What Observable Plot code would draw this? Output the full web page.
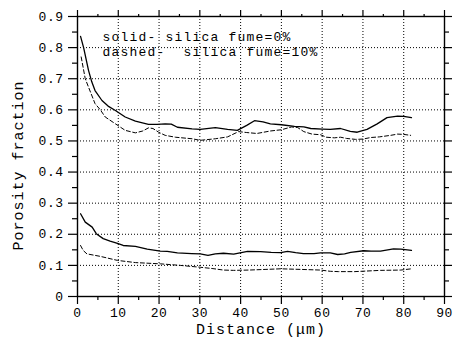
<!DOCTYPE html>
<html>
<head>
<meta charset="utf-8">
<script src="https://cdn.jsdelivr.net/npm/d3@7"></script>
<script src="https://cdn.jsdelivr.net/npm/@observablehq/plot@0.6"></script>
<style>
  html, body { margin: 0; padding: 0; background: white; }
  svg text { white-space: pre; }
</style>
</head>
<body>
<div id="chart"></div>
<script>
// ---- data ----
const xTicks = [0, 10, 20, 30, 40, 50, 60, 70, 80, 90];
const yTicks = [0, 0.1, 0.2, 0.3, 0.4, 0.5, 0.6, 0.7, 0.8, 0.9];
const yTickLabels = ["0", "0.1", "0.2", "0.3", "0.4", "0.5", "0.6", "0.7", "0.8", "0.9"];
const xMinor = [5, 15, 25, 35, 45, 55, 65, 75, 85];
const yMinor = [0.05, 0.15, 0.25, 0.35, 0.45, 0.55, 0.65, 0.75, 0.85];

const legendLines = ["solid- silica fume=0%", "dashed-\u00A0\u00A0silica fume=10%"];
const xLabel = "Distance (\u03BCm)";
const yLabel = "Porosity fraction";

// upper pair
const upperSolidX = [0.75, 1.5, 2.7, 3.5, 4.3, 6.0, 7.5, 9.3, 11.7, 14.2, 17.4, 19.5, 21.5, 23, 24.5, 28.1, 30.1, 33.8, 36.8, 39.2, 41.5, 43.4, 45.5, 47.3, 50, 53.2, 55.5, 57.2, 60, 62, 64.5, 66.9, 68.6, 71.0, 73.5, 75.9, 78.5, 80, 81.9];
const upperSolidY = [0.836, 0.80, 0.727, 0.69, 0.662, 0.630, 0.612, 0.598, 0.577, 0.564, 0.553, 0.553, 0.555, 0.554, 0.544, 0.539, 0.537, 0.543, 0.537, 0.534, 0.55, 0.565, 0.561, 0.555, 0.552, 0.547, 0.545, 0.540, 0.538, 0.537, 0.540, 0.531, 0.528, 0.537, 0.555, 0.575, 0.580, 0.579, 0.575];

const upperDashedX = [0.9, 1.9, 2.7, 4.3, 5.6, 6.8, 9.3, 11.7, 14.2, 16, 17.4, 18.5, 19.9, 21.5, 24, 28.1, 30.1, 33.8, 36.8, 39.5, 41.5, 44, 47.3, 50, 52.5, 54, 55.5, 57.5, 59.6, 61, 63, 64.5, 66, 68.2, 70, 71.9, 74, 76.8, 78.5, 80, 81.7];
const upperDashedY = [0.77, 0.70, 0.673, 0.62, 0.60, 0.577, 0.555, 0.534, 0.526, 0.532, 0.542, 0.54, 0.528, 0.518, 0.512, 0.507, 0.502, 0.507, 0.513, 0.530, 0.527, 0.524, 0.532, 0.536, 0.545, 0.543, 0.530, 0.522, 0.520, 0.512, 0.510, 0.512, 0.508, 0.505, 0.506, 0.511, 0.513, 0.518, 0.522, 0.521, 0.518];

// lower pair
const lowerSolidX = [0.75, 1.9, 3.6, 4.6, 6.3, 8, 9.8, 11.2, 14.2, 17.1, 20.3, 22, 24.5, 28, 30.1, 32, 33.8, 35.8, 38.3, 41.7, 44.9, 47.5, 49.8, 51.5, 53.5, 55.4, 58, 59.6, 62, 63.8, 65.5, 67, 70.2, 72, 74.3, 77.5, 79.3, 81.9];
const lowerSolidY = [0.266, 0.239, 0.223, 0.202, 0.186, 0.178, 0.171, 0.164, 0.161, 0.152, 0.146, 0.145, 0.140, 0.138, 0.137, 0.132, 0.137, 0.139, 0.136, 0.145, 0.144, 0.142, 0.141, 0.145, 0.141, 0.138, 0.138, 0.140, 0.140, 0.135, 0.137, 0.142, 0.147, 0.146, 0.146, 0.153, 0.152, 0.148];

const lowerDashedX = [0.75, 1.4, 2.3, 5.6, 9.8, 14.2, 20.3, 25.2, 30.1, 33, 35.8, 38.3, 42, 46, 49.8, 55, 59.6, 62, 64, 68, 74.3, 79.3, 81.9];
const lowerDashedY = [0.164, 0.148, 0.137, 0.129, 0.116, 0.109, 0.105, 0.100, 0.094, 0.090, 0.085, 0.084, 0.085, 0.087, 0.089, 0.087, 0.085, 0.081, 0.080, 0.080, 0.084, 0.085, 0.089];

const toPts = (xs, ys) => xs.map((x, i) => ({x, y: ys[i]}));
const upperSolid = toPts(upperSolidX, upperSolidY);
const upperDashed = toPts(upperDashedX, upperDashedY);
const lowerSolid = toPts(lowerSolidX, lowerSolidY);
const lowerDashed = toPts(lowerDashedX, lowerDashedY);

const mono = "Liberation Mono, DejaVu Sans Mono, monospace";
const gridStyle = {stroke: "black", strokeOpacity: 1, strokeWidth: 1, strokeDasharray: "1,2"};

const chart = Plot.plot({
  width: 454,
  height: 339,
  marginLeft: 77,
  marginRight: 10,
  marginTop: 16,
  marginBottom: 43,
  style: {fontFamily: mono, fontSize: "13px", background: "white", color: "black", overflow: "visible"},
  x: {domain: [0, 90], label: null},
  y: {domain: [0, 0.9], label: null},
  marks: [
    Plot.gridX(xTicks.slice(1, -1), gridStyle),
    Plot.gridY(yTicks.slice(1, -1), gridStyle),
    // bottom axis
    Plot.axisX({anchor: "bottom", ticks: xTicks, tickSize: 8, tickPadding: 3, tickFormat: d => String(d), fontSize: 13, label: null, strokeWidth: 1.2}),
    Plot.axisX({anchor: "bottom", ticks: xMinor, tickSize: 4, tickFormat: () => "", label: null, strokeWidth: 1.2}),
    // top axis
    Plot.axisX({anchor: "top", ticks: xTicks, tickSize: 7, tickFormat: () => "", label: null, strokeWidth: 1.2}),
    Plot.axisX({anchor: "top", ticks: xMinor, tickSize: 3, tickFormat: () => "", label: null, strokeWidth: 1.2}),
    // left axis
    Plot.axisY({anchor: "left", ticks: yTicks, tickSize: 9, tickPadding: 5, tickFormat: (d, i) => yTickLabels[i], fontSize: 13, label: null, strokeWidth: 1.2}),
    Plot.axisY({anchor: "left", ticks: yMinor, tickSize: 5, tickFormat: () => "", label: null, strokeWidth: 1.2}),
    // right axis
    Plot.axisY({anchor: "right", ticks: yTicks, tickSize: 7, tickFormat: () => "", label: null, strokeWidth: 1.2}),
    Plot.axisY({anchor: "right", ticks: yMinor, tickSize: 4, tickFormat: () => "", label: null, strokeWidth: 1.2}),
    Plot.frame({stroke: "black", strokeWidth: 1.4}),
    // curves
    Plot.line(upperSolid, {x: "x", y: "y", stroke: "black", strokeWidth: 1.3}),
    Plot.line(lowerSolid, {x: "x", y: "y", stroke: "black", strokeWidth: 1.3}),
    Plot.line(upperDashed, {x: "x", y: "y", stroke: "black", strokeWidth: 1, strokeDasharray: "4,2.5"}),
    Plot.line(lowerDashed, {x: "x", y: "y", stroke: "black", strokeWidth: 1, strokeDasharray: "4,2.5"}),
    // legend text
    Plot.text([legendLines[0]], {frameAnchor: "top-left", text: d => d, textAnchor: "start", lineAnchor: "bottom", dx: 25, dy: 24, fontSize: 13, fill: "black"}),
    Plot.text([legendLines[1]], {frameAnchor: "top-left", text: d => d, textAnchor: "start", lineAnchor: "bottom", dx: 25, dy: 39, fontSize: 13, fill: "black"}),
    // axis titles
    Plot.text([xLabel], {frameAnchor: "bottom", text: d => d, textAnchor: "middle", lineAnchor: "bottom", dy: 37, fontSize: 15, fill: "black"}),
    Plot.text([yLabel], {frameAnchor: "left", text: d => d, textAnchor: "middle", lineAnchor: "bottom", rotate: -90, dx: -55, dy: 9, fontSize: 15, fill: "black"})
  ]
});

// letter spacing to match the typewriter-like widths
chart.querySelectorAll("g[aria-label='text'] text").forEach(t => {
  const fs = parseFloat(t.closest("g").getAttribute("font-size")) || 13;
  t.style.letterSpacing = fs >= 15 ? "1px" : "1.2px";
});
chart.querySelectorAll("g[aria-label='x-axis tick label'] text, g[aria-label='y-axis tick label'] text").forEach(t => {
  t.style.letterSpacing = "0.5px";
});
document.getElementById("chart").appendChild(chart);
</script>
</body>
</html>
